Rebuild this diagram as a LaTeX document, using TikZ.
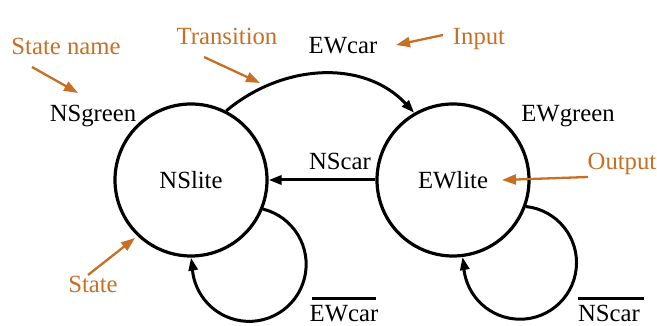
\documentclass[tikz,border=0pt]{standalone}
\usepackage{fontspec}
\setmainfont{Liberation Serif}
\usetikzlibrary{arrows.meta}
\definecolor{annot}{RGB}{199,111,37}

\tikzset{
  state/.style={circle, draw, line width=3.2pt, minimum size=152pt, inner sep=0pt},
  trans/.style={line width=3pt, -{Triangle[length=13pt,width=9pt]}},
  lbl/.style={anchor=base, inner sep=2pt},
  note/.style={lbl, text=annot},
  pointer/.style={annot, line width=2.3pt, -{Triangle[length=14pt,width=10pt]}},
  bar/.style={line width=2.8pt},
}

\begin{document}
\begin{tikzpicture}[x=1pt, y=1pt, font=\fontsize{24.7}{29}\selectfont]
\useasboundingbox (0,0) rectangle (657,326);

% states
\node[state] (NS) at (191,146) {NSlite};
\node[state] (EW) at (453,146) {EWlite};

% outputs
\node[lbl] (nsgreen) at (93,204) {NSgreen};
\node[lbl] (ewgreen) at (568,204) {EWgreen};

% transitions
\draw[trans] (NS.63) to[out=40, in=133] (EW.120);
\node[lbl] (ewcar) at (343,272) {EWcar};
\draw[trans] (EW.west) -- (NS.east);
\node[lbl] (nscar) at (340,156) {NScar};

\draw[trans] (NS.-22) arc[start angle=76, end angle=-180, radius=57] -- (NS.south);
\node[lbl] (notew) at (344,4) {EWcar};
\draw[bar] ([shift={(4pt,5pt)}]notew.north west) -- ([shift={(-4pt,5pt)}]notew.north east);

\draw[trans] (EW.-20) arc[start angle=84, end angle=-180, radius=56.5] -- (EW.-83);
\node[lbl] (notns) at (609,4) {NScar};
\draw[bar] ([shift={(2pt,5pt)}]notns.north west) -- ([shift={(2pt,5pt)}]notns.north east);

% annotations
\node[note] (statename) at (66,271) {State name};
\node[note] (transition) at (227,281) {Transition};
\node[note] (input) at (479,281) {Input};
\node[note] (output) at (622,156) {Output};
\node[note] (statelbl) at (93,33) {State};

\coordinate (sn-tail) at (32,259);
\coordinate (sn-tip) at (78,233);
\coordinate (tr-tail) at (204,269);
\coordinate (tr-tip) at (260,243);
\coordinate (in-tail) at (443,291);
\coordinate (in-tip) at (396,281);
\coordinate (out-tail) at (588,149);
\coordinate (out-tip) at (502,146);
\coordinate (st-tail) at (88,51);
\coordinate (st-tip) at (135,88);

\draw[pointer] (sn-tail) -- (sn-tip);
\draw[pointer] (tr-tail) -- (tr-tip);
\draw[pointer] (in-tail) -- (in-tip);
\draw[pointer] (out-tail) -- (out-tip);
\draw[pointer] (st-tail) -- (st-tip);
\end{tikzpicture}
\end{document}
